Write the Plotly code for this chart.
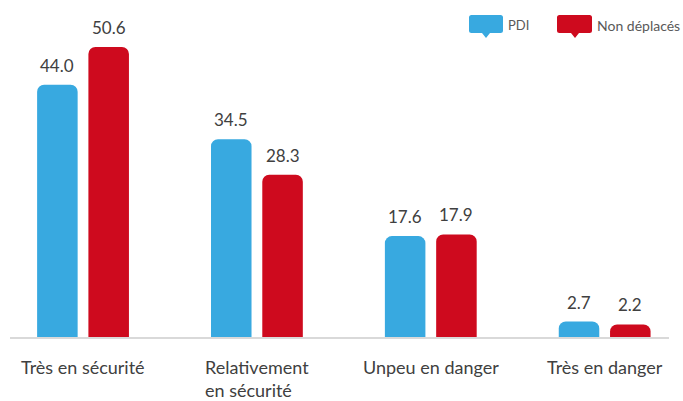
import plotly.graph_objects as go

categories = ["Très en sécurité", "Relativement<br>en sécurité", "Unpeu en danger", "Très en danger"]
pdi = [44.0, 34.5, 17.6, 2.7]
non_deplaces = [50.6, 28.3, 17.9, 2.2]
series_names = ["PDI", "Non déplacés"]

BLUE = "#38A9E0"
RED = "#CE0A1E"
TEXT = "#404040"
FONT = "Lato"

W, H = 683, 401
ML, MR, MT, MB = 10, 14, 20, 64
XR = [-0.42, 3.37]
BARGAP = 0.41
GROUPGAP = 0.21

fig = go.Figure()
for name, vals, col in [(series_names[0], pdi, BLUE), (series_names[1], non_deplaces, RED)]:
    fig.add_bar(
        x=categories, y=vals, name=name,
        marker=dict(color=col, line=dict(width=0)),
    )

pw = W - ML - MR
ph = H - MT - MB


def px(x):
    return (x - ML) / pw


def py(y):
    return (H - MB - y) / ph


def bubble(x0, y0, x1, y1, tx, color):
    r = 2.5
    path = (
        f"M {px(x0 + r)} {py(y0)} L {px(x1 - r)} {py(y0)} Q {px(x1)} {py(y0)} {px(x1)} {py(y0 + r)} "
        f"L {px(x1)} {py(y1 - r)} Q {px(x1)} {py(y1)} {px(x1 - r)} {py(y1)} "
        f"L {px(tx + 4)} {py(y1)} L {px(tx)} {py(y1 + 5)} L {px(tx - 4)} {py(y1)} "
        f"L {px(x0 + r)} {py(y1)} Q {px(x0)} {py(y1)} {px(x0)} {py(y1 - r)} "
        f"L {px(x0)} {py(y0 + r)} Q {px(x0)} {py(y0)} {px(x0 + r)} {py(y0)} Z"
    )
    return dict(type="path", xref="paper", yref="paper", path=path,
                fillcolor=color, line=dict(width=0), layer="above")


shapes = [
    bubble(469, 15, 503, 33, 486, BLUE),
    bubble(557, 15, 592, 33, 575, RED),
]
annotations = [
    dict(x=px(506), y=py(25), xref="paper", yref="paper", text=series_names[0],
         showarrow=False, xanchor="left", yanchor="middle",
         font=dict(size=13, color="#595959", family=FONT)),
    dict(x=px(595), y=py(25), xref="paper", yref="paper", text=series_names[1],
         showarrow=False, xanchor="left", yanchor="middle",
         font=dict(size=14, color="#595959", family=FONT)),
]

# category labels (left-aligned lines, centred under each group)
for c in categories:
    annotations.append(dict(
        x=c, y=0, xref="x", yref="paper", text=c, showarrow=False,
        xanchor="center", yanchor="top", align="left", yshift=-17,
        font=dict(size=18, color=TEXT, family=FONT),
    ))

# value labels, offset to each bar's slot centre (derived from bargap)
cat_px = pw / (XR[1] - XR[0])
slot = cat_px * (1 - BARGAP) / 2
for sign, vals in [(-1, pdi), (1, non_deplaces)]:
    for c, v in zip(categories, vals):
        annotations.append(dict(
            x=c, y=v, xref="x", yref="y", text=f"{v:.1f}", showarrow=False,
            xanchor="center", yanchor="bottom", xshift=sign * slot / 2, yshift=7,
            font=dict(size=17, color=TEXT, family=FONT),
        ))

fig.update_layout(
    width=W, height=H,
    margin=dict(l=ML, r=MR, t=MT, b=MB),
    paper_bgcolor="white", plot_bgcolor="white",
    barmode="group", bargap=BARGAP, bargroupgap=GROUPGAP,
    barcornerradius=7,
    showlegend=False,
    shapes=shapes, annotations=annotations,
    font=dict(family=FONT, color=TEXT),
    xaxis=dict(
        range=XR, showline=True, linecolor="#D9D9D9", linewidth=2,
        ticks="", showgrid=False, zeroline=False, fixedrange=True, automargin=False,
        showticklabels=False,
    ),
    yaxis=dict(visible=False, range=[0, 55.3], fixedrange=True, automargin=False),
)

fig.write_html(
    "out.html",
    config={"displayModeBar": False},
    post_script="document.body.style.margin='0';document.body.style.overflow='hidden';",
)
